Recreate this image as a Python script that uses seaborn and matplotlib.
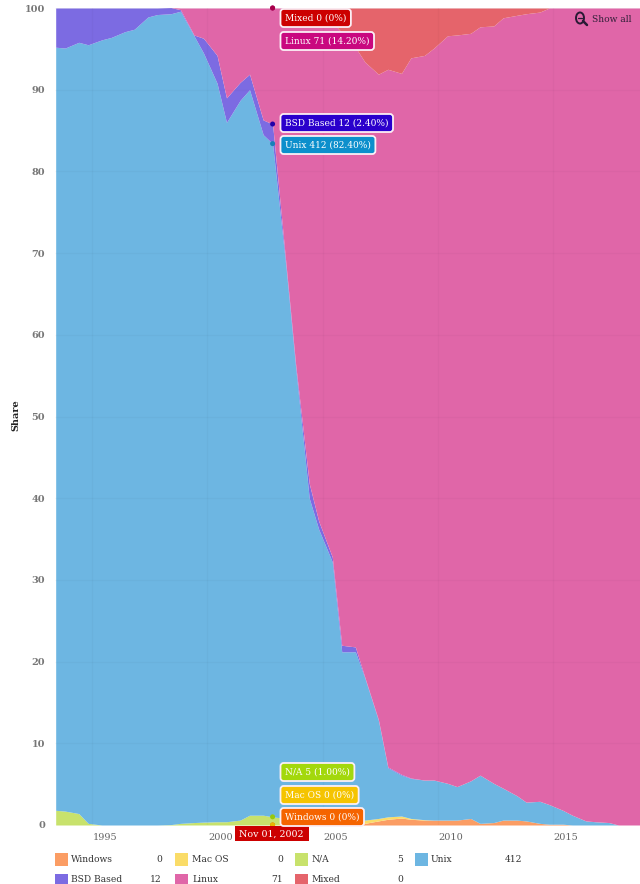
import matplotlib
matplotlib.use('Agg')
import matplotlib.pyplot as plt
import matplotlib.transforms as mtrans
from matplotlib.lines import Line2D
from matplotlib.patches import Circle, Rectangle
import numpy as np
import pandas as pd
import seaborn as sns

# ============================================================
# Data (share per list, June and November of every year)
# ============================================================
years = [1993.42, 1993.83, 1994.42, 1994.83, 1995.42, 1995.83, 1996.42, 1996.83, 1997.42, 1997.83,
         1998.42, 1998.83, 1999.42, 1999.83, 2000.42, 2000.83, 2001.42, 2001.83, 2002.42, 2002.83,
         2003.42, 2003.83, 2004.42, 2004.83, 2005.42, 2005.83, 2006.42, 2006.83, 2007.42, 2007.83,
         2008.42, 2008.83, 2009.42, 2009.83, 2010.42, 2010.83, 2011.42, 2011.83, 2012.42, 2012.83,
         2013.42, 2013.83, 2014.42, 2014.83, 2015.42, 2015.83, 2016.42, 2016.83, 2017.42, 2017.83,
         2018.42, 2018.83]

windows = [0, 0, 0, 0, 0, 0, 0, 0, 0, 0,
           0, 0, 0, 0, 0, 0, 0, 0, 0, 0,
           0, 0, 0, 0, 0, 0, 0.1, 0.2, 0.5, 0.7,
           0.85, 0.7, 0.6, 0.6, 0.6, 0.6, 0.8, 0.2, 0.3, 0.6,
           0.6, 0.5, 0.2, 0.1, 0.1, 0, 0, 0, 0, 0,
           0, 0]
mac_os = [0, 0, 0, 0, 0, 0, 0, 0, 0, 0,
          0, 0, 0, 0, 0, 0, 0, 0, 0, 0,
          0, 0, 0, 0.1, 0.2, 0.3, 0.4, 0.4, 0.3, 0.3,
          0.25, 0.1, 0.05, 0, 0, 0, 0, 0, 0, 0,
          0, 0, 0, 0, 0, 0, 0, 0, 0, 0,
          0, 0]
na = [1.8, 1.7, 1.4, 0.2, 0, 0, 0, 0, 0, 0,
      0.05, 0.2, 0.3, 0.35, 0.4, 0.4, 0.6, 1.2, 1.2, 1.0,
      0.8, 0.6, 0.5, 0.4, 0.3, 0.2, 0.1, 0, 0, 0,
      0, 0, 0, 0, 0, 0, 0, 0, 0, 0,
      0, 0, 0, 0, 0, 0, 0, 0, 0, 0,
      0, 0]
unix = [93.4, 93.4, 94.4, 95.3, 96.1, 96.4, 97.1, 97.4, 98.9, 99.2,
        99.25, 99.4, 96.3, 94.15, 90.4, 85.6, 88.1, 88.8, 83.3, 82.4,
        67.2, 55.4, 39.5, 35.7, 31.7, 20.7, 20.6, 17.4, 12.0, 6.0,
        5.0, 4.9, 4.85, 4.9, 4.5, 4.1, 4.6, 5.9, 4.8, 3.9,
        3.0, 2.3, 2.7, 2.4, 1.7, 1.2, 0.5, 0.4, 0.3, 0,
        0, 0]
bsd = [4.8, 4.9, 4.2, 4.5, 3.9, 3.6, 2.9, 2.6, 1.1, 0.8,
       0.75, 0.2, 0.1, 1.8, 3.4, 3.0, 2.2, 1.9, 1.8, 2.4,
       0.4, 0.4, 1.8, 1.0, 0.6, 0.8, 0.6, 0.1, 0.1, 0.1,
       0.1, 0.05, 0, 0, 0, 0, 0, 0, 0, 0,
       0, 0, 0, 0, 0, 0, 0, 0, 0, 0,
       0, 0]
linux = [0, 0, 0, 0, 0, 0, 0, 0, 0, 0,
         0, 0.2, 3.3, 3.7, 5.8, 11, 9.1, 8.1, 13.7, 14.2,
         31.6, 43.6, 58, 62.1, 65.5, 75, 73.4, 75.3, 79, 85.4,
         85.8, 88.15, 88.7, 89.6, 91.5, 92, 91.5, 91.6, 92.7, 94.3,
         95.5, 96.5, 96.6, 97.5, 98.2, 98.8, 99.5, 99.6, 99.7, 100,
         100, 100]
mixed = [0, 0, 0, 0, 0, 0, 0, 0, 0, 0,
         0, 0, 0, 0, 0, 0, 0, 0, 0, 0,
         0, 0, 0.2, 0.7, 1.7, 3, 4.8, 6.6, 8.1, 7.5,
         8, 6.1, 5.8, 4.9, 3.4, 3.3, 3.1, 2.3, 2.2, 1.2,
         0.9, 0.7, 0.5, 0, 0, 0, 0, 0, 0, 0,
         0, 0]

names = ['Windows', 'Mac OS', 'N/A', 'Unix', 'BSD Based', 'Linux', 'Mixed']
counts = [0, 0, 5, 412, 12, 71, 0]
area_colors = ['#FB9D64', '#FADC68', '#C8E26C', '#6DB6E2', '#7C6BE2', '#E066A8', '#E5646B']
tooltip_colors = ['#F56400', '#F5C400', '#A3D80C', '#0C8FCC', '#2A00CC', '#C9087F', '#CC0000']
dot_colors = ['#E05A00', '#E8B800', '#98C80C', '#1A80B8', '#2200A8', '#A8086C', '#A8004A']

tooltip_labels = ['Windows 0 (0%)', 'Mac OS 0 (0%)', 'N/A 5 (1.00%)', 'Unix 412 (82.40%)',
                  'BSD Based 12 (2.40%)', 'Linux 71 (14.20%)', 'Mixed 0 (0%)']
tooltip_rows = [817, 795, 772, 145, 123, 41, 18]

x_ticks = [1995, 2000, 2005, 2010, 2015]
y_ticks = [0, 10, 20, 30, 40, 50, 60, 70, 80, 90, 100]
hover_year = 2002.83
hover_label = 'Nov 01, 2002'

# ============================================================
# Figure
# ============================================================
sns.set_theme(style='white')
plt.rcParams['font.family'] = ['DejaVu Serif']

W, H = 640, 884


def fx(px):
    return px / W


def fy(py):
    return 1 - py / H


fig = plt.figure(figsize=(W / 100, H / 100), dpi=100)
ax = fig.add_axes([fx(55), fy(825), fx(585), (825 - 8) / H])

series = [windows, mac_os, na, unix, bsd, linux, mixed]
ax.stackplot(years, series, colors=area_colors, linewidth=0, zorder=1)

df = pd.DataFrame(dict(zip(names, series)), index=years)
tops = df.cumsum(axis=1)

ax.set_xlim(1993.39, 2018.77)
ax.set_ylim(0, 100)
ax.set_xticks(x_ticks)
ax.set_yticks(y_ticks)
ax.set_xticklabels([str(v) for v in x_ticks], fontsize=7, color='#666666')
ax.set_yticklabels([str(v) for v in y_ticks], fontsize=7, color='#777777', fontweight='bold')
ax.tick_params(axis='x', length=0, pad=6)
ax.tick_params(axis='y', length=0, pad=7)
ax.grid(True, color='#000000', alpha=0.022, linewidth=1)
ax.set_axisbelow(False)
sns.despine(ax=ax, left=True, bottom=True, top=True, right=True)

# x labels sit to the right of their gridline
shift = mtrans.ScaledTranslation(13 / 100, 0, fig.dpi_scale_trans)
for lab in ax.get_xticklabels():
    lab.set_transform(lab.get_transform() + shift)

# the top label is cut by the edge of the chart
top_label = ax.get_yticklabels()[-1]
top_label.set_clip_on(True)
top_label.set_clip_box(mtrans.Bbox([[0, 0], [W, H - 5]]))

fig.text(fx(16), fy(415), 'Share', rotation=90, fontsize=7, fontweight='bold',
         color='#222222', ha='center', va='center')

# hover dots
hover = tops.loc[hover_year]
dots = pd.DataFrame({'x': hover_year, 'y': hover.values, 'name': names})
sns.scatterplot(data=dots, x='x', y='y', hue='name', palette=dict(zip(names, dot_colors)),
                s=13, linewidth=0, legend=False, clip_on=False, ax=ax, zorder=5)
ax.set_xlabel('')
ax.set_ylabel('')

# tooltips
for label, py, color in zip(tooltip_labels, tooltip_rows, tooltip_colors):
    fig.text(fx(285), fy(py), label, fontsize=6.5, color='white', ha='left', va='center',
             bbox=dict(boxstyle='round,pad=0.5,rounding_size=0.35', fc=color, ec='#FBEFF5', lw=1.3),
             zorder=6)

# date flag under the axis
fig.text(fx(271), fy(834), hover_label, fontsize=6.8, color='white', ha='center', va='center', zorder=7)
fig.add_artist(Rectangle((fx(235), fy(841)), 74 / W, 15 / H, transform=fig.transFigure,
                         fc='#CC0000', ec='none', zorder=6))

# show all button
fig.text(fx(592), fy(19.5), 'Show all', fontsize=6.6, color='#33203A', ha='left', va='center')
fig.add_artist(Circle((fx(580), fy(18)), 4 / W, transform=fig.transFigure, fill=False,
                      ec='#2A1A35', lw=1.4))
fig.add_artist(Line2D([fx(583), fx(587)], [fy(21), fy(25)], color='#2A1A35', lw=1.8))
fig.add_artist(Line2D([fx(578), fx(582)], [fy(18), fy(18)], color='#2A1A35', lw=0.9))

# legend table, two rows clipped by the image bottom
swatch_x = [55, 175, 295, 415]
text_x = [71, 192, 312, 431]
value_x = [162, 283, 403, 522]
for i, (name, count, color) in enumerate(zip(names, counts, area_colors)):
    row, col = (0, i) if i < 4 else (1, i - 4)
    py = 859 + row * 21
    fig.add_artist(Rectangle((fx(swatch_x[col]), fy(py + 6.5)), 13 / W, 13 / H,
                             transform=fig.transFigure, fc=color, ec='none'))
    fig.text(fx(text_x[col]), fy(py), name, fontsize=6.6, color='#333333', ha='left', va='center')
    fig.text(fx(value_x[col]), fy(py), str(count), fontsize=6.6, color='#333333', ha='right', va='center')

plt.savefig('out.png', dpi=100)
plt.close()
